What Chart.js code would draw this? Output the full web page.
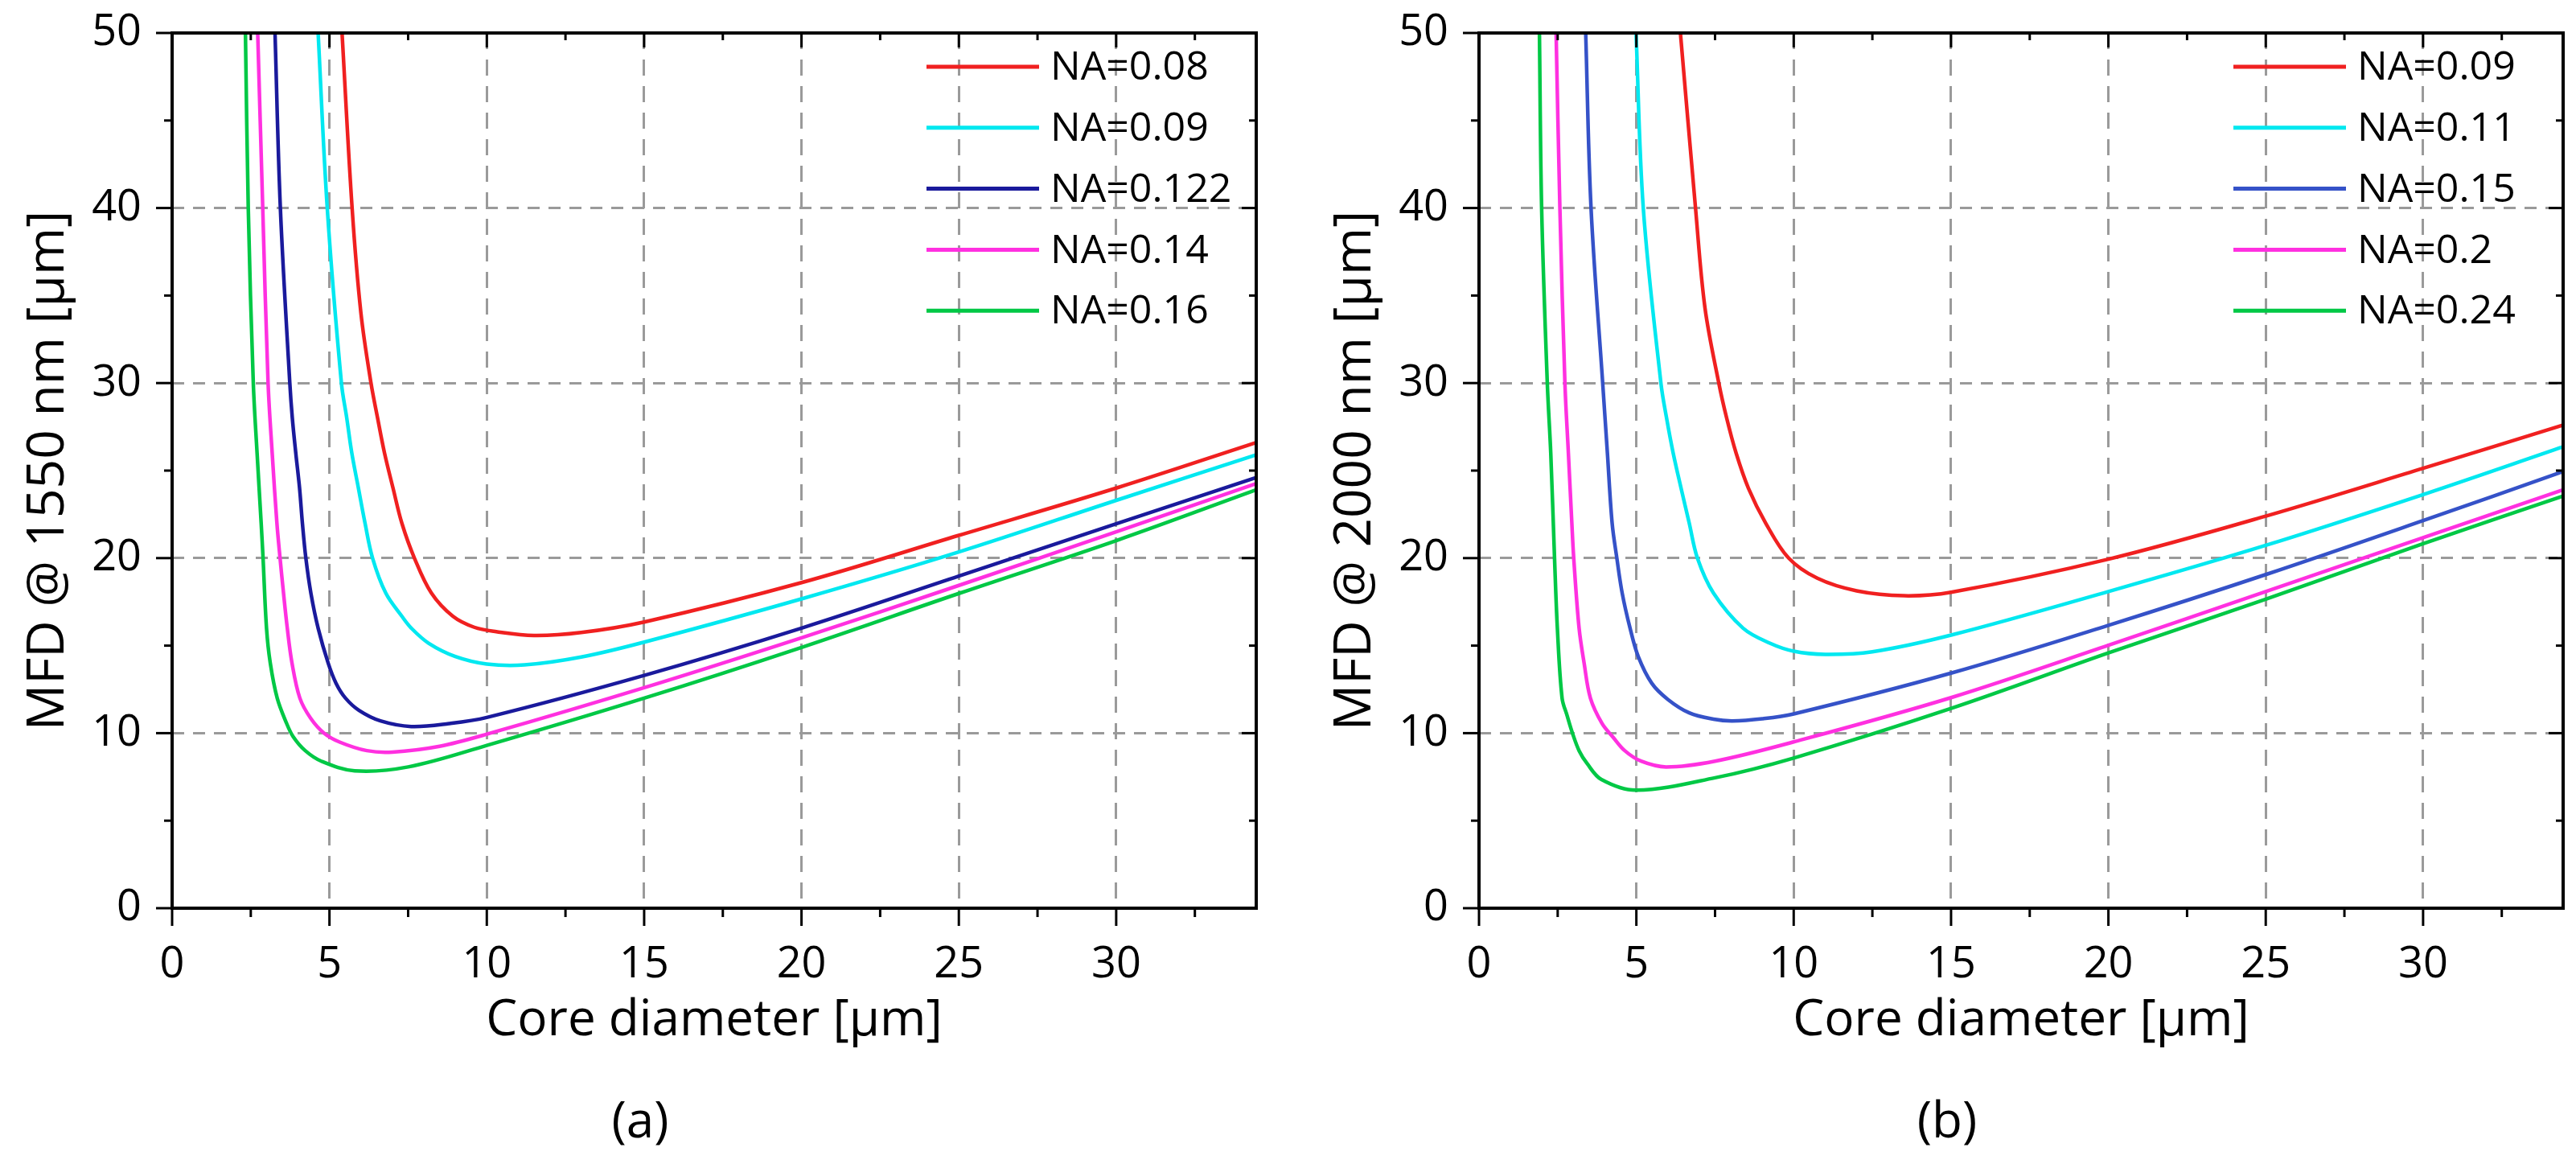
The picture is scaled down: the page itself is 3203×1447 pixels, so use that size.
<!DOCTYPE html>
<html>
<head>
<meta charset="utf-8">
<script src="https://cdn.jsdelivr.net/npm/chart.js@4.4.1/dist/chart.umd.min.js"></script>
<style>
  html, body { margin: 0; padding: 0; background: #fff; }
  body { width: 3203px; height: 1447px; position: relative; overflow: hidden; }
  canvas { position: absolute; top: 0; }
  #chartA { left: 0; }
  #chartB { left: 1625px; }
</style>
</head>
<body>
<canvas id="chartA" width="1578" height="1447"></canvas>
<canvas id="chartB" width="1578" height="1447"></canvas>
<script>
// ---- data ----
const xTicks = [0, 5, 10, 15, 20, 25, 30];
const xMinor = [2.5, 7.5, 12.5, 17.5, 22.5, 27.5, 32.5];
const yTicks = [0, 10, 20, 30, 40, 50];
const yMinor = [5, 15, 25, 35, 45];

// (a) MFD @ 1550 nm
const naA = ['NA=0.08', 'NA=0.09', 'NA=0.122', 'NA=0.14', 'NA=0.16'];
const coreA_008 = [5.40, 5.72, 6.00, 6.32, 6.53, 6.75, 7.02, 7.30, 7.70, 8.24, 8.92, 9.60, 10.3, 11.5, 13.0, 15.0, 20.0, 25.0, 30.0, 34.45];
const mfdA_008  = [50, 40, 34, 30, 28, 26, 24, 22, 20, 18, 16.68, 16.05, 15.8, 15.58, 15.75, 16.35, 18.6, 21.3, 24.0, 26.6];
const coreA_009 = [4.64, 4.93, 5.38, 5.55, 5.71, 5.92, 6.13, 6.37, 6.79, 7.30, 7.60, 8.15, 9.00, 10.0, 11.2, 13.0, 15.0, 20.0, 25.0, 30.0, 34.45];
const mfdA_009  = [50, 40, 30, 28, 26, 24, 22, 20, 18, 16.68, 16.0, 15.14, 14.38, 13.95, 13.9, 14.35, 15.2, 17.67, 20.35, 23.3, 25.9];
const coreA_0122 = [3.27, 3.44, 3.74, 3.82, 3.93, 4.05, 4.14, 4.25, 4.41, 4.64, 4.96, 5.21, 5.51, 5.94, 6.62, 7.60, 8.80, 10.0, 15.0, 20.0, 25.0, 30.0, 34.45];
const mfdA_0122  = [50, 40, 30, 28, 26, 24, 22, 20, 18, 16, 14, 12.85, 12.0, 11.3, 10.7, 10.38, 10.55, 10.9, 13.3, 16.0, 18.97, 21.96, 24.6];
const coreA_014 = [2.72, 2.88, 3.05, 3.18, 3.33, 3.43, 3.54, 3.66, 3.81, 4.06, 4.40, 4.83, 5.34, 6.19, 7.00, 8.50, 10.0, 15.0, 20.0, 25.0, 30.0, 34.45];
const mfdA_014  = [50, 40, 30, 26, 22, 20, 18, 16, 14, 12, 10.86, 10.0, 9.48, 9.0, 8.92, 9.25, 9.94, 12.6, 15.45, 18.44, 21.5, 24.26];
const coreA_016 = [2.33, 2.42, 2.58, 2.70, 2.83, 2.89, 3.00, 3.12, 3.34, 3.64, 3.85, 4.23, 4.74, 5.80, 7.50, 10.0, 15.0, 20.0, 25.0, 30.0, 34.45];
const mfdA_016  = [50, 40, 30, 26, 22, 20, 16, 14, 12, 10.55, 9.79, 9.0, 8.4, 7.85, 8.07, 9.3, 12.0, 14.9, 17.98, 21.0, 23.9];

// (b) MFD @ 2000 nm
const naB = ['NA=0.09', 'NA=0.11', 'NA=0.15', 'NA=0.2', 'NA=0.24'];
const coreB_009 = [6.40, 6.88, 7.18, 7.62, 7.87, 8.17, 8.56, 9.11, 9.84, 10.75, 12.0, 13.5, 15.0, 20.0, 25.0, 30.0, 34.45];
const mfdB_009  = [50, 40, 34.3, 30, 28, 26, 24, 22, 20, 18.85, 18.13, 17.85, 18.05, 19.94, 22.4, 25.13, 27.6];
const coreB_011 = [4.99, 5.22, 5.78, 5.96, 6.17, 6.42, 6.68, 6.94, 7.45, 8.39, 9.24, 10.0, 11.0, 12.5, 15.0, 20.0, 25.0, 30.0, 34.45];
const mfdB_011  = [50, 40, 30, 28, 26, 24, 22, 20, 18, 16, 15.14, 14.68, 14.5, 14.65, 15.6, 18.09, 20.73, 23.63, 26.36];
const coreB_015 = [3.39, 3.56, 3.93, 4.08, 4.23, 4.38, 4.55, 4.80, 5.06, 5.49, 6.00, 6.68, 7.45, 8.05, 9.00, 10.0, 15.0, 20.0, 25.0, 30.0, 34.45];
const mfdB_015  = [50, 40, 30, 26, 22, 20, 18, 16, 14.38, 12.85, 11.93, 11.16, 10.8, 10.7, 10.82, 11.1, 13.43, 16.16, 19.06, 22.14, 24.95];
const coreB_02 = [2.45, 2.57, 2.73, 2.84, 2.95, 3.01, 3.18, 3.34, 3.54, 3.91, 4.25, 4.63, 5.15, 5.95, 7.50, 10.0, 15.0, 20.0, 25.0, 30.0, 34.45];
const mfdB_02  = [50, 40, 30, 26, 22, 20, 16, 14, 12, 10.55, 9.79, 9.0, 8.4, 8.07, 8.4, 9.5, 12.03, 15.02, 18.09, 21.17, 23.9];
const coreB_024 = [1.92, 1.99, 2.17, 2.28, 2.40, 2.49, 2.64, 2.80, 2.97, 3.18, 3.44, 3.89, 5.00, 7.50, 10.0, 15.0, 20.0, 25.0, 30.0, 34.45];
const mfdB_024  = [50, 40, 30, 26, 20, 16, 12, 11, 10, 9.0, 8.25, 7.35, 6.74, 7.45, 8.58, 11.41, 14.58, 17.65, 20.82, 23.55];

const FONT = "'Open Sans', 'DejaVu Sans', sans-serif";

// frame with inward/outward ticks, legend and sub caption
const decorPlugin = {
  id: 'decor',
  afterDraw(chart, args, opts) {
    const { ctx, chartArea: a, scales: { x, y } } = chart;
    ctx.save();
    ctx.strokeStyle = '#000';
    ctx.lineCap = 'butt';

    ctx.lineWidth = 3;
    const tick = (x1, y1, x2, y2) => { ctx.beginPath(); ctx.moveTo(x1, y1); ctx.lineTo(x2, y2); ctx.stroke(); };
    xTicks.forEach(v => {
      const px = x.getPixelForValue(v);
      tick(px, a.bottom, px, a.bottom + 22);
      tick(px, a.top, px, a.top + 18);
    });
    xMinor.forEach(v => {
      const px = x.getPixelForValue(v);
      tick(px, a.bottom, px, a.bottom + 11);
      tick(px, a.top, px, a.top + 9);
    });
    yTicks.forEach(v => {
      const py = y.getPixelForValue(v);
      tick(a.left - 20, py, a.left, py);
      tick(a.right - 18, py, a.right, py);
    });
    yMinor.forEach(v => {
      const py = y.getPixelForValue(v);
      tick(a.left - 10, py, a.left, py);
      tick(a.right - 9, py, a.right, py);
    });

    ctx.lineWidth = 4;
    ctx.strokeRect(a.left, a.top, a.right - a.left, a.bottom - a.top);

    // legend
    ctx.font = '50px ' + FONT;
    ctx.textBaseline = 'middle';
    ctx.textAlign = 'left';
    chart.data.datasets.forEach((ds, i) => {
      const ly = opts.legendY + i * opts.legendStep;
      ctx.strokeStyle = ds.borderColor;
      ctx.lineWidth = 5;
      tick(opts.legendX, ly, opts.legendX + 140, ly);
      ctx.fillStyle = '#000';
      ctx.fillText(ds.label, opts.legendX + 154, ly + 2);
    });

    // sub caption
    ctx.font = '62px ' + FONT;
    ctx.textAlign = 'center';
    ctx.fillText(opts.caption, opts.captionX, opts.captionY);
    ctx.restore();
  }
};

function makeChart(id, labels, cores, mfds, colors, yTitle, caption) {
  const datasets = labels.map((lab, i) => ({
    label: lab,
    data: cores[i].map((c, j) => ({ x: c, y: mfds[i][j] })),
    borderColor: colors[i],
    backgroundColor: colors[i],
    borderWidth: 4.5,
    pointRadius: 0,
    showLine: true,
    fill: false,
    tension: 0.35
  }));

  return new Chart(document.getElementById(id), {
    type: 'scatter',
    data: { datasets },
    plugins: [decorPlugin],
    options: {
      responsive: false,
      animation: false,
      devicePixelRatio: 1,
      events: [],
      layout: { padding: { top: 41, right: 16, left: 0, bottom: 0 } },
      plugins: {
        legend: { display: false },
        tooltip: { enabled: false },
        decor: { legendX: 1152, legendY: 83, legendStep: 75.8, caption, captionX: 796, captionY: 1396 }
      },
      scales: {
        x: {
          type: 'linear', min: 0, max: 34.45,
          afterBuildTicks: s => { s.ticks = xTicks.map(v => ({ value: v })); },
          afterFit: s => { s.height = 318; s.paddingLeft = 0; s.paddingRight = 0; },
          grid: { color: '#9a9a9a', lineWidth: 3, drawTicks: false },
          border: { display: false, dash: [20, 13] },
          ticks: { padding: 38, maxRotation: 0, autoSkip: false, color: '#000', font: { family: FONT, size: 54 } },
          title: { display: true, text: 'Core diameter [μm]', color: '#000', font: { family: FONT, size: 62, lineHeight: 1.2 }, padding: { top: 0, bottom: 140 } }
        },
        y: {
          type: 'linear', min: 0, max: 50,
          afterBuildTicks: s => { s.ticks = yTicks.map(v => ({ value: v })); },
          afterFit: s => { s.width = 214; s.paddingTop = 0; s.paddingBottom = 0; },
          grid: { color: '#9a9a9a', lineWidth: 3, drawTicks: false },
          border: { display: false, dash: [15, 11] },
          ticks: { padding: 38, color: '#000', font: { family: FONT, size: 54 } },
          title: { display: true, text: yTitle, color: '#000', font: { family: FONT, size: 64, lineHeight: 1.2 }, padding: { top: 22, bottom: 0 } }
        }
      }
    }
  });
}

makeChart('chartA', naA,
  [coreA_008, coreA_009, coreA_0122, coreA_014, coreA_016],
  [mfdA_008, mfdA_009, mfdA_0122, mfdA_014, mfdA_016],
  ['#f02020', '#00e8f0', '#1a1a9c', '#ff30e0', '#00c845'],
  'MFD @ 1550 nm [μm]', '(a)');

makeChart('chartB', naB,
  [coreB_009, coreB_011, coreB_015, coreB_02, coreB_024],
  [mfdB_009, mfdB_011, mfdB_015, mfdB_02, mfdB_024],
  ['#f02020', '#00e8f0', '#3552c8', '#ff30e0', '#00c845'],
  'MFD @ 2000 nm [μm]', '(b)');
</script>
</body>
</html>
